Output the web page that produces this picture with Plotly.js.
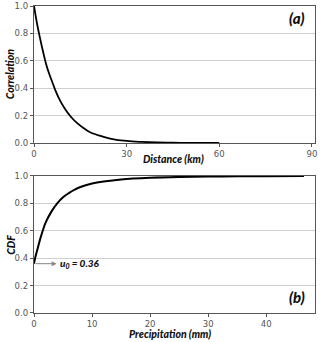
<!DOCTYPE html>
<html>
<head>
<meta charset="utf-8">
<script src="https://cdn.plot.ly/plotly-3.0.1.min.js"></script>
<style>
  html, body { margin: 0; padding: 0; background: #fff; }
  #chart { width: 320px; height: 342px; }
</style>
</head>
<body>
<div id="chart"></div>
<script>
// (a) correlation vs distance
const distKm = [0, 1, 2, 3, 4, 5, 6, 7, 8, 10, 12, 14, 16, 18, 21, 25, 30, 35, 40, 45, 50, 55, 60];
const correlation = [1.0, 0.87, 0.76, 0.66, 0.57, 0.50, 0.44, 0.38, 0.33, 0.25, 0.19, 0.145, 0.11, 0.08, 0.055, 0.031, 0.015, 0.008, 0.004, 0.002, 0.001, 0.0005, 0.0];

// (b) CDF vs precipitation
const precipMm = [0, 0.25, 0.5, 1, 1.5, 2, 3, 4, 5, 6, 7, 8, 10, 12, 15, 20, 25, 30, 35, 40, 46.5];
const cdf = [0.36, 0.41, 0.45, 0.53, 0.60, 0.66, 0.74, 0.80, 0.845, 0.875, 0.90, 0.92, 0.945, 0.96, 0.975, 0.987, 0.993, 0.996, 0.998, 0.999, 1.0];

const u0 = 0.36;
const yTicks = [0, 0.2, 0.4, 0.6, 0.8, 1.0];
const yTickText = ["0.0", "0.2", "0.4", "0.6", "0.8", "1.0"];

const tickFont = {family: "DejaVu Sans", size: 8.5, color: "#555"};
const titleFont = {family: "Lato", size: 10.5, color: "#111", weight: 900, style: "italic"};

const axisBase = {
    showline: true,
    mirror: true,
    linecolor: "#555",
    linewidth: 1.2,
    ticks: "outside",
    ticklen: 3,
    tickcolor: "#555",
    tickfont: tickFont,
    ticklabeloverflow: "allow",
    zeroline: false,
    automargin: false
};

const traces = [
    {
        x: distKm, y: correlation, type: "scatter", mode: "lines",
        line: {color: "#000", width: 1.8, shape: "spline"},
        xaxis: "x", yaxis: "y", hoverinfo: "skip", cliponaxis: false
    },
    {
        x: precipMm, y: cdf, type: "scatter", mode: "lines",
        line: {color: "#000", width: 2, shape: "spline"},
        xaxis: "x2", yaxis: "y2", hoverinfo: "skip", cliponaxis: false
    }
];

// small helper for axis-title annotations placed in paper coords
const label = (text, x, y, angle) => ({
    xref: "paper", yref: "paper", x: x, y: y,
    xanchor: "center", yanchor: "middle", showarrow: false,
    textangle: angle || 0,
    text: text,
    font: titleFont
});

const layout = {
    width: 320,
    height: 342,
    margin: {l: 34, r: 5, t: 6, b: 29},
    paper_bgcolor: "#fff",
    plot_bgcolor: "#fff",
    showlegend: false,
    xaxis: Object.assign({}, axisBase, {
        domain: [0, 1], anchor: "y", range: [0, 91],
        tickvals: [0, 30, 60, 90], showgrid: false
    }),
    yaxis: Object.assign({}, axisBase, {
        domain: [0.5537, 1], anchor: "x", range: [0, 1],
        tickvals: yTicks, ticktext: yTickText,
        showgrid: true, gridcolor: "#cfcfcf", gridwidth: 1
    }),
    xaxis2: Object.assign({}, axisBase, {
        domain: [0, 1], anchor: "y2", range: [0, 48.4],
        dtick: 10, showgrid: false
    }),
    yaxis2: Object.assign({}, axisBase, {
        domain: [0, 0.4463], anchor: "x2", range: [0, 1],
        tickvals: yTicks, ticktext: yTickText,
        showgrid: true, gridcolor: "#cfcfcf", gridwidth: 1
    }),
    annotations: [
        label("Distance (km)", 0.498, 0.502),
        label("Precipitation (mm)", 0.485, -0.068),
        label("Correlation", -0.083, 0.777, -90),
        label("CDF", -0.083, 0.2215, -90),
        {
            xref: "x domain", yref: "y domain", x: 0.97, y: 0.99,
            xanchor: "right", yanchor: "top", showarrow: false,
            text: "(a)",
            font: {family: "Lato", size: 15, color: "#111", weight: 900, style: "italic"}
        },
        {
            xref: "x2 domain", yref: "y2 domain", x: 0.97, y: 0.04,
            xanchor: "right", yanchor: "bottom", showarrow: false,
            text: "(b)",
            font: {family: "Lato", size: 15, color: "#111", weight: 900, style: "italic"}
        },
        // arrow from the curve start toward the label
        {
            xref: "x2", yref: "y2", x: 3.9, y: u0,
            axref: "x2", ayref: "y2", ax: 0, ay: u0,
            text: "", showarrow: true,
            arrowhead: 2, arrowsize: 1, arrowwidth: 1, arrowcolor: "#888"
        },
        {
            xref: "x2", yref: "y2", x: 4.1, y: u0,
            xanchor: "left", yanchor: "middle", showarrow: false,
            text: "u<sub>0</sub> = " + u0.toFixed(2),
            font: {family: "Lato", size: 10, color: "#111", weight: 900, style: "italic"}
        }
    ]
};

Plotly.newPlot("chart", traces, layout, {displayModeBar: false, staticPlot: true});
</script>
</body>
</html>
